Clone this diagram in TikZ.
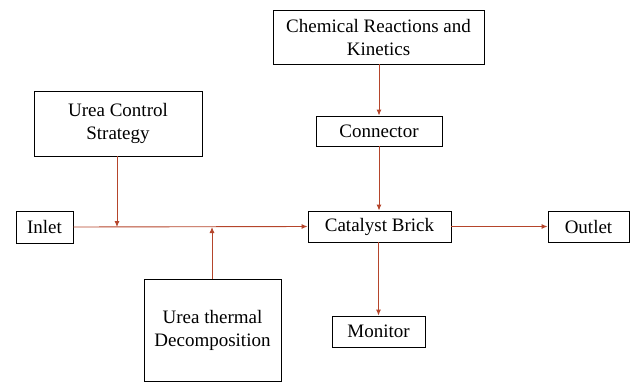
\documentclass[tikz,border=0pt]{standalone}
\usepackage{fontspec}
\newfontfamily\figfont{LiberationSerif}[Extension=.ttf,UprightFont=*-Regular]
\usetikzlibrary{arrows.meta}
\definecolor{arr}{HTML}{B5452B}
\begin{document}
\begin{tikzpicture}[x=1pt,y=-1pt,
  box/.style={draw=black, line width=0.9pt, fill=white, inner sep=0pt, align=center,
    font=\figfont\fontsize{19}{23}\selectfont},
  conn/.style={draw=arr, line width=0.9pt, -{Latex[length=6pt,width=5pt]}}]
\useasboundingbox (0,0) rectangle (631,383);
\node[box, minimum width=211pt, minimum height=54pt] (chem) at (378.5,37) {Chemical Reactions and\\Kinetics};
\node[box, minimum width=126pt, minimum height=30pt] (conn) at (379,131) {Connector};
\node[box, minimum width=143pt, minimum height=31pt] (cat) at (379.5,226.5) {Catalyst Brick};
\node[box, minimum width=81pt, minimum height=31pt] (out) at (588.5,226.5) {Outlet};
\node[box, minimum width=168pt, minimum height=65pt] (ucs) at (118,123.5) {Urea Control\\Strategy};
\node[box, minimum width=57pt, minimum height=32pt] (inlet) at (44.5,227) {Inlet};
\node[box, minimum width=137pt, minimum height=102pt] (utd) at (212.5,330) {Urea thermal\\Decomposition};
\node[box, minimum width=93pt, minimum height=31pt] (mon) at (378.5,331.5) {Monitor};
\coordinate (j1) at (117,227);
\coordinate (j2) at (212,227);
\draw[conn] (inlet.east) -- (cat.west);
\draw[conn] (ucs.south -| j1) -- (j1);
\draw[conn] (utd.north -| j2) -- (j2);
\draw[conn] (chem.south -| conn.north) -- (conn.north);
\draw[conn] (conn.south) -- (cat.north -| conn.south);
\draw[conn] (cat.east) -- (out.west);
\draw[conn] (cat.south -| mon.north) -- (mon.north);
\end{tikzpicture}
\end{document}
